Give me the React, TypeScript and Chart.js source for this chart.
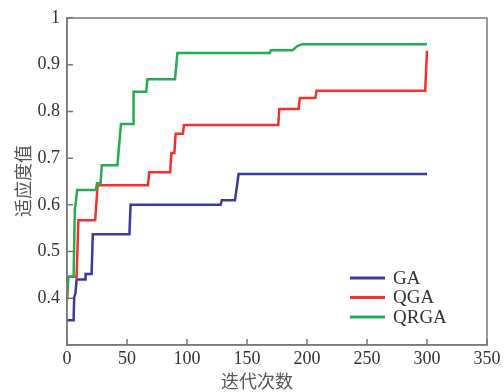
import React, { useEffect, useRef } from "react";
import { Chart, registerables } from "chart.js";

Chart.register(...registerables);

const seriesNames = ["GA", "QGA", "QRGA"];
const seriesColors = ["#3a3a9e", "#f5302a", "#22ad52"];

const gaX = [0, 5.5, 6, 7, 8, 15, 15.5, 20.5, 21.5, 52, 53, 128, 129, 140, 143, 300];
const gaY = [0.353, 0.353, 0.403, 0.41, 0.44, 0.44, 0.452, 0.452, 0.537, 0.537, 0.6, 0.6, 0.61, 0.61, 0.666, 0.666];

const qgaX = [0, 1, 8, 9.5, 23.5, 25.5, 67.5, 68.5, 86, 87, 89.5, 90.5, 96.5, 97.5, 176, 177, 193, 194, 207, 208, 298.5, 300];
const qgaY = [0.4, 0.446, 0.446, 0.567, 0.567, 0.642, 0.642, 0.67, 0.67, 0.711, 0.711, 0.752, 0.752, 0.771, 0.771, 0.805, 0.805, 0.829, 0.829, 0.844, 0.844, 0.93];

const qrgaX = [0, 1, 5.5, 6.5, 8.5, 24, 25, 28, 29, 42, 45, 55, 55.5, 66, 67, 90, 92, 169, 170, 188, 192, 196, 300];
const qrgaY = [0.396, 0.446, 0.446, 0.589, 0.632, 0.632, 0.646, 0.646, 0.685, 0.685, 0.773, 0.773, 0.842, 0.842, 0.869, 0.869, 0.925, 0.925, 0.931, 0.931, 0.94, 0.944, 0.944];

const xTitle = "迭代次数";
const yTitle = "适应度值";

const SERIF = "'Liberation Serif', 'DejaVu Serif', serif";
const CJK = "'Noto Sans CJK SC', sans-serif";
const AXIS_COLOR = "#7a7a7a";

function toPoints(xs: number[], ys: number[]) {
  return xs.map((x, i) => ({ x, y: ys[i] }));
}

const framePlugin = {
  id: "frame",
  afterDraw(chart: any) {
    const { ctx, chartArea } = chart;
    const { left, right, top, bottom } = chartArea;
    ctx.save();
    ctx.strokeStyle = AXIS_COLOR;
    ctx.lineWidth = 1.5;
    ctx.strokeRect(left, top, right - left, bottom - top);
    const xs = chart.scales.x;
    const ys = chart.scales.y;
    ctx.beginPath();
    xs.ticks.forEach((t: any) => {
      const px = xs.getPixelForValue(t.value);
      ctx.moveTo(px, bottom);
      ctx.lineTo(px, bottom - 6);
    });
    ys.ticks.forEach((t: any) => {
      const py = ys.getPixelForValue(t.value);
      ctx.moveTo(left, py);
      ctx.lineTo(left + 6, py);
    });
    ctx.stroke();

    const lx = right - 137;
    const rows = [bottom - 67, bottom - 47.5, bottom - 28];
    chart.data.datasets.forEach((ds: any, i: number) => {
      ctx.strokeStyle = ds.borderColor;
      ctx.lineWidth = 3;
      ctx.beginPath();
      ctx.moveTo(lx, rows[i]);
      ctx.lineTo(lx + 35, rows[i]);
      ctx.stroke();
      ctx.fillStyle = "#333";
      ctx.font = `19px ${SERIF}`;
      ctx.textBaseline = "middle";
      ctx.textAlign = "left";
      ctx.fillText(ds.label, lx + 43, rows[i] + 1);
    });

    ctx.fillStyle = "#555";
    ctx.font = `18px ${CJK}`;
    ctx.textAlign = "center";
    ctx.textBaseline = "middle";
    ctx.fillText(xTitle, 257, 381);
    ctx.save();
    ctx.translate(23, 181);
    ctx.rotate(-Math.PI / 2);
    ctx.fillText(yTitle, 0, 0);
    ctx.restore();
    ctx.restore();
  },
};

export default function App() {
  const ref = useRef<HTMLCanvasElement | null>(null);

  useEffect(() => {
    document.body.style.margin = "0";
    const canvas = ref.current;
    if (!canvas) return;
    const sets = [
      toPoints(gaX, gaY),
      toPoints(qgaX, qgaY),
      toPoints(qrgaX, qrgaY),
    ];
    const chart = new Chart(canvas, {
      type: "line",
      data: {
        datasets: sets.map((d, i) => ({
          label: seriesNames[i],
          data: d,
          borderColor: seriesColors[i],
          backgroundColor: seriesColors[i],
          borderWidth: 2.5,
          pointRadius: 0,
          tension: 0,
          fill: false,
          order: 2 - i,
        })),
      },
      options: {
        animation: false,
        responsive: false,
        maintainAspectRatio: false,
        layout: { padding: { left: 0, right: 17, top: 18, bottom: 0 } },
        plugins: {
          legend: { display: false },
          tooltip: { enabled: false },
        },
        scales: {
          x: {
            type: "linear",
            min: 0,
            max: 350,
            grid: { display: false, drawTicks: false },
            border: { display: true, color: AXIS_COLOR, width: 1.5 },
            ticks: {
              stepSize: 50,
              padding: 3,
              color: "#333",
              font: { family: SERIF, size: 18 },
              maxRotation: 0,
            },
            afterFit(scale: any) {
              scale.height = 47;
            },
          },
          y: {
            type: "linear",
            min: 0.3,
            max: 1,
            grid: { display: false, drawTicks: false },
            border: { display: true, color: AXIS_COLOR, width: 1.5 },
            ticks: {
              stepSize: 0.1,
              padding: 7,
              color: "#333",
              font: { family: SERIF, size: 18 },
              callback: (v: any) => {
                const n = Number(Number(v).toFixed(1));
                return n <= 0.3 ? "" : String(n);
              },
            },
            afterFit(scale: any) {
              scale.width = 67;
            },
          },
        },
      },
      plugins: [framePlugin],
    });
    let alive = true;
    const redraw = () => {
      if (alive) chart.update();
    };
    if ((document as any).fonts) {
      (document as any).fonts.load(`18px 'Liberation Serif'`).then(redraw, redraw);
      (document as any).fonts.ready.then(redraw);
    }
    const t = setTimeout(redraw, 100);
    return () => {
      alive = false;
      clearTimeout(t);
      chart.destroy();
    };
  }, []);

  return (
    <div style={{ position: "absolute", left: 0, top: 0, width: 504, height: 392, background: "#fff" }}>
      <canvas ref={ref} width={504} height={392} style={{ width: 504, height: 392 }} />
    </div>
  );
}
